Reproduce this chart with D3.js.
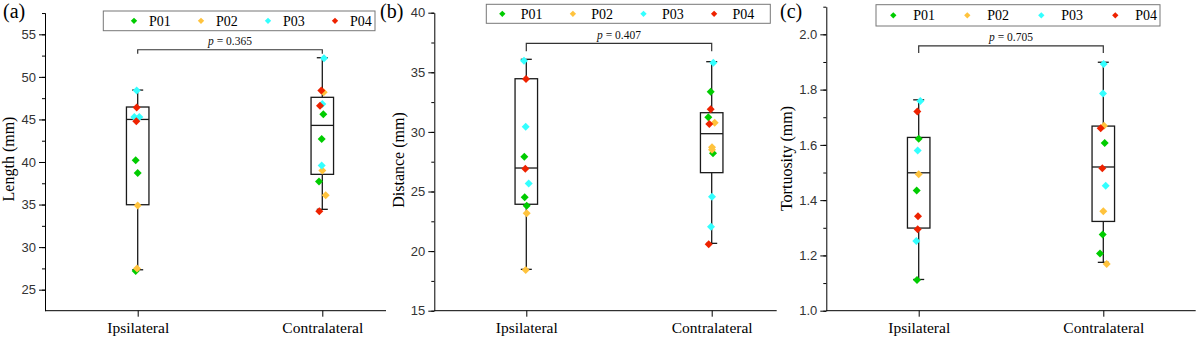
<!DOCTYPE html>
<html lang="en">
<head>
<meta charset="utf-8">
<title>Box plots</title>
<script src="https://d3js.org/d3.v7.min.js"></script>
<style>
  body { margin: 0; background: #fff; }
</style>
</head>
<body>
<div id="chart"></div>
<script>
// DATA
const categories = ["Ipsilateral", "Contralateral"];
const participants = ["P01", "P02", "P03", "P04"];
const panelLetters = ["(a)", "(b)", "(c)"];
const yTitles = ["Length (mm)", "Distance (mm)", "Tortuosity (mm)"];
const pValues = ["0.365", "0.407", "0.705"];

const lengthTicks = [25, 30, 35, 40, 45, 50, 55];
const distanceTicks = [15, 20, 25, 30, 35, 40];
const tortTicks = ["1.0", "1.2", "1.4", "1.6", "1.8", "2.0"];

// box stats: [whisker low, q1, median, q3, whisker high]
const lengthBox = [[27.34, 34.98, 45.0, 46.46, 48.45], [34.44, 38.55, 44.3, 47.6, 52.25]];
const distanceBox = [[18.47, 23.93, 26.97, 34.46, 36.09], [20.65, 26.58, 29.85, 31.61, 35.89]];
const tortBox = [[1.113, 1.299, 1.499, 1.627, 1.763], [1.175, 1.323, 1.520, 1.668, 1.899]];

// individual points
const lengthIpsi = [48.4, 46.4, 45.3, 45.3, 44.8, 40.2, 38.7, 34.9, 27.5, 27.2];
const lengthIpsiWho = ["P03", "P04", "P03", "P03", "P04", "P01", "P01", "P02", "P02", "P01"];
const lengthContra = [52.2, 48.2, 48.4, 46.8, 46.6, 45.6, 42.7, 39.6, 39.0, 37.7, 36.1, 34.2];
const lengthContraWho = ["P03", "P02", "P04", "P03", "P04", "P01", "P01", "P03", "P02", "P01", "P02", "P04"];

const distanceIpsi = [35.97, 34.44, 30.44, 27.92, 26.91, 25.68, 24.51, 23.81, 23.17, 18.42];
const distanceIpsiWho = ["P03", "P04", "P03", "P01", "P04", "P03", "P01", "P01", "P02", "P02"];
const distanceContra = [35.81, 33.37, 31.89, 31.22, 30.66, 30.77, 28.2, 28.71, 28.5, 24.56, 22.05, 20.57];
const distanceContraWho = ["P03", "P01", "P04", "P01", "P04", "P02", "P01", "P02", "P02", "P03", "P03", "P04"];

const tortIpsi = [1.759, 1.721, 1.622, 1.580, 1.494, 1.435, 1.342, 1.295, 1.252, 1.111];
const tortIpsiWho = ["P03", "P04", "P01", "P03", "P02", "P01", "P04", "P04", "P03", "P01"];
const tortContra = [1.893, 1.786, 1.669, 1.660, 1.607, 1.515, 1.452, 1.360, 1.276, 1.207, 1.169];
const tortContraWho = ["P03", "P03", "P02", "P04", "P01", "P04", "P03", "P02", "P01", "P01", "P02"];

// LAYOUT (pixel jitter of points, panel geometry)
const jitter = [
  [[-1, -1, -3.4, 1.6, -1.4, -2, 0, 0, -0.7, -2], [1.7, 1.4, -1, 0, -2.3, 1, -0.6, -0.6, 0, -3.3, 3.4, -3]],
  [[-2.3, -0.3, -0.6, -2, -1, 2.4, -1.6, 0.4, 0.4, -0.6], [1.6, -1, -1, -3.4, -2.4, 3, 1.3, 0.3, 0.3, 0.3, -0.7, -3]],
  [[1.6, -1.4, 0, -1, 0, -2, -0.7, -1, -2.4, -1.7], [0.4, -0.3, 0.7, -2.6, 1.4, -1, 2.4, 0, -0.6, -3.3, 3.4]]
];

const colors = { P01: "#00cc00", P02: "#ffc33d", P03: "#33ffff", P04: "#ee2200" };
const serif = '"Liberation Serif", "Times New Roman", serif';

const W = 1202, H = 340;
const yBottom = 310.7;

const panels = [
  {
    x0: 45, x1: 386, yTop: 12.7, domain: [22.53, 57.54],
    ticks: lengthTicks, minorStep: 2.5, fmt: d => d,
    cats: [137.7, 322.3], box: lengthBox,
    pts: [[lengthIpsi, lengthIpsiWho], [lengthContra, lengthContraWho]],
    bracketY: 53.19, bracketDrop: 4, pY: 45,
    legend: { x: 103.3, y: 11, w: 271.7, h: 19.7, first: 30.7, step: 67, txt: 15 },
    letterX: 3, titleX: 14, titleY: 159
  },
  {
    x0: 434.3, x1: 776.7, yTop: 12.7, domain: [15, 40],
    ticks: distanceTicks, minorStep: 2.5, fmt: d => d,
    cats: [526.3, 711.7], box: distanceBox,
    pts: [[distanceIpsi, distanceIpsiWho], [distanceContra, distanceContraWho]],
    bracketY: 37.43, bracketDrop: 8, pY: 39.3,
    legend: { x: 486.3, y: 4.3, w: 284, h: 19, first: 16, step: 70.6, txt: 18.4 },
    letterX: 380, titleX: 404, titleY: 160
  },
  {
    x0: 826.3, x1: 1195.7, yTop: 6.7, domain: [1.0, 2.1],
    ticks: tortTicks.map(Number), minorStep: 0.1, fmt: d3.format(".1f"),
    cats: [918.7, 1103.3], box: tortBox,
    pts: [[tortIpsi, tortIpsiWho], [tortContra, tortContraWho]],
    bracketY: 1.958, bracketDrop: 7, pY: 40.7,
    legend: { x: 876, y: 4.7, w: 284, h: 21.3, first: 17.3, step: 74, txt: 20 },
    letterX: 780, titleX: 792, titleY: 158.5
  }
];

const svg = d3.select("#chart").append("svg")
  .attr("width", W).attr("height", H);

const diamond = d3.symbol(d3.symbolSquare, 32);
const smallDiamond = d3.symbol(d3.symbolSquare, 20);

panels.forEach((p, i) => {
  const g = svg.append("g");

  const y = d3.scaleLinear().domain(p.domain).range([yBottom, p.yTop]);
  const x = d3.scalePoint().domain(categories).range(p.cats);

  // minor ticks
  const minors = d3.range(p.domain[0], p.domain[1] + 1e-9, p.minorStep)
    .map(v => Math.round(v / p.minorStep) * p.minorStep)
    .filter(v => v >= p.domain[0] - 1e-9 && v <= p.domain[1] + 1e-9);
  g.append("g")
    .attr("transform", `translate(${p.x0},0)`)
    .call(d3.axisLeft(y).tickValues(minors).tickSize(3).tickFormat("").tickSizeOuter(0))
    .call(a => a.select(".domain").remove())
    .selectAll("line").attr("stroke", "#000");

  // y axis
  const yAxis = g.append("g")
    .attr("transform", `translate(${p.x0},0)`)
    .call(d3.axisLeft(y).tickValues(p.ticks).tickFormat(p.fmt).tickSize(6).tickPadding(3).tickSizeOuter(0));
  yAxis.select(".domain").attr("stroke", "#000");
  yAxis.selectAll("text").attr("fill", "#333").attr("font-size", 13)
    .attr("font-family", '"Liberation Sans", Arial, sans-serif');

  // x axis
  g.append("line")
    .attr("x1", p.x0).attr("x2", p.x1).attr("y1", yBottom).attr("y2", yBottom)
    .attr("stroke", "#000");
  const xAxis = g.append("g")
    .attr("transform", `translate(0,${yBottom})`)
    .call(d3.axisBottom(x).tickSize(6).tickPadding(5));
  xAxis.select(".domain").remove();
  xAxis.selectAll("text")
    .attr("font-size", 15.5).attr("fill", "#000")
    .attr("font-family", serif);

  // boxes
  const bw = 22.5, cap = 5.5;
  categories.forEach((c, ci) => {
    const b = p.box[ci];
    const cx = x(c);
    const bg = g.append("g").attr("stroke", "#1a1a1a").attr("fill", "none").attr("stroke-width", 1.3);
    bg.append("line").attr("x1", cx).attr("x2", cx).attr("y1", y(b[0])).attr("y2", y(b[1]));
    bg.append("line").attr("x1", cx).attr("x2", cx).attr("y1", y(b[3])).attr("y2", y(b[4]));
    bg.append("line").attr("x1", cx - cap).attr("x2", cx + cap).attr("y1", y(b[0])).attr("y2", y(b[0]));
    bg.append("line").attr("x1", cx - cap).attr("x2", cx + cap).attr("y1", y(b[4])).attr("y2", y(b[4]));
    bg.append("rect").attr("x", cx - bw / 2).attr("width", bw)
      .attr("y", y(b[3])).attr("height", y(b[1]) - y(b[3]));
    bg.append("line").attr("x1", cx - bw / 2).attr("x2", cx + bw / 2)
      .attr("y1", y(b[2])).attr("y2", y(b[2]));
  });

  // points, drawn P01 first up to P04 on top
  participants.forEach(who => {
    categories.forEach((c, ci) => {
      const [vals, whos] = p.pts[ci];
      const rows = vals.map((v, k) => ({ v, who: whos[k], j: jitter[i][ci][k] }))
        .filter(d => d.who === who);
      g.selectAll(null).data(rows).enter().append("path")
        .attr("d", diamond)
        .attr("transform", d => `translate(${x(c) + d.j},${y(d.v)}) rotate(45)`)
        .attr("fill", colors[who]);
    });
  });

  // significance bracket
  const by = y(p.bracketY);
  g.append("path")
    .attr("d", `M${x(categories[0])},${by + p.bracketDrop}V${by}H${x(categories[1])}V${by + p.bracketDrop}`)
    .attr("fill", "none").attr("stroke", "#333").attr("stroke-width", 1.2);
  const pt = g.append("text")
    .attr("x", (x(categories[0]) + x(categories[1])) / 2)
    .attr("y", p.pY)
    .attr("text-anchor", "middle")
    .attr("font-family", serif)
    .attr("font-size", 11.5).attr("fill", "#111");
  pt.append("tspan").attr("font-style", "italic").text("p");
  pt.append("tspan").text(" = " + pValues[i]);

  // legend
  const L = p.legend;
  g.append("rect").attr("x", L.x).attr("y", L.y).attr("width", L.w).attr("height", L.h)
    .attr("fill", "#fff").attr("stroke", "#777").attr("stroke-width", 1);
  participants.forEach((who, k) => {
    const lx = L.x + L.first + k * L.step;
    const ly = L.y + L.h / 2;
    g.append("path").attr("d", smallDiamond)
      .attr("transform", `translate(${lx},${ly}) rotate(45)`)
      .attr("fill", colors[who]);
    g.append("text").attr("x", lx + L.txt).attr("y", ly).attr("dy", "0.35em")
      .attr("font-family", serif)
      .attr("font-size", 14).attr("fill", "#000").text(who);
  });

  // panel letter
  g.append("text").attr("x", p.letterX).attr("y", 18)
    .attr("font-family", serif)
    .attr("font-size", 20).attr("fill", "#000").text(panelLetters[i]);

  // y title
  g.append("text")
    .attr("transform", `translate(${p.titleX},${p.titleY}) rotate(-90)`)
    .attr("text-anchor", "middle")
    .attr("font-family", serif)
    .attr("font-size", 16).attr("fill", "#000").text(yTitles[i]);
});
</script>
</body>
</html>
